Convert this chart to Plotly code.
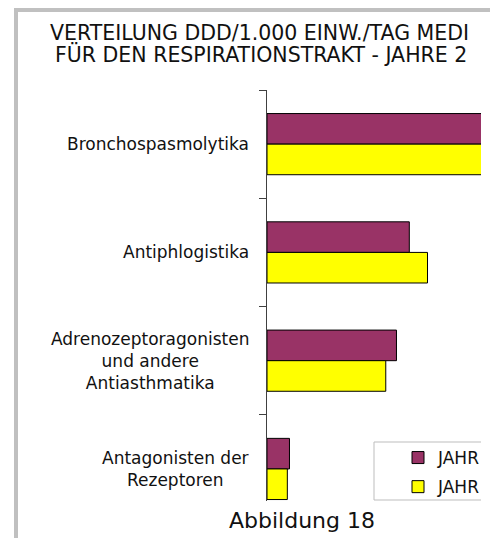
import plotly.graph_objects as go

# ---- data ----
categories = [
    "Bronchospasmolytika",
    "Antiphlogistika",
    "Adrenozeptoragonisten und andere Antiasthmatika",
    "Antagonisten der Rezeptoren",
]
category_labels = [
    "Bronchospasmolytika",
    "Antiphlogistika",
    "Adrenozeptoragonisten<br>und andere<br>Antiasthmatika",
    "Antagonisten der<br>Rezeptoren",
]
series_names = ["JAHR", "JAHR"]
values_first = [26.5, 13.3, 12.1, 2.1]
values_second = [27.8, 15.0, 11.1, 1.9]
title_lines = [
    "VERTEILUNG DDD/1.000 EINW./TAG MEDI",
    "FÜR DEN RESPIRATIONSTRAKT - JAHRE 2",
]
caption = "Abbildung 18"

# the page body adds an 8px offset, so the figure is 8px smaller
OFF = 8
W, H = 498 - OFF, 538 - OFF


def px(x):
    return (x - OFF) / W


def py(y):
    return 1 - (y - OFF) / H


FONT = "DejaVu Sans"
TXT = "#111111"

fig = go.Figure()
fig.add_trace(go.Bar(
    y=categories, x=values_first, orientation="h", name=series_names[0],
    marker=dict(color="#993366", line=dict(color="#000000", width=1)),
    legendgroup="a",
))
fig.add_trace(go.Bar(
    y=categories, x=values_second, orientation="h", name=series_names[1],
    marker=dict(color="#FFFF00", line=dict(color="#000000", width=1)),
    legendgroup="b",
))

annotations = [
    dict(text=title_lines[0], x=px(48), y=py(33), xref="paper", yref="paper",
         xanchor="left", yanchor="middle", showarrow=False,
         font=dict(family=FONT, size=20.5, color=TXT)),
    dict(text=title_lines[1], x=px(53), y=py(55), xref="paper", yref="paper",
         xanchor="left", yanchor="middle", showarrow=False,
         font=dict(family=FONT, size=20.5, color=TXT)),
    dict(text=caption, x=px(302), y=py(520), xref="paper", yref="paper",
         xanchor="center", yanchor="middle", showarrow=False,
         font=dict(family=FONT, size=22, color=TXT)),
]
for cat, lab in zip(categories, category_labels):
    annotations.append(dict(
        text=lab, x=px(251), y=cat, xref="paper", yref="y",
        xanchor="right", yanchor="middle", align="center", showarrow=False,
        font=dict(family=FONT, size=17, color=TXT)))

GRAY = "#c0c0c0"
shapes = [
    dict(type="rect", xref="paper", yref="paper", x0=px(14), x1=px(18),
         y0=py(538), y1=py(8), fillcolor=GRAY, line=dict(width=0)),
    dict(type="rect", xref="paper", yref="paper", x0=px(14), x1=px(498),
         y0=py(12), y1=py(8), fillcolor=GRAY, line=dict(width=0)),
    # legend frame (right side cut off like in the reference)
    dict(type="line", xref="paper", yref="paper", x0=px(374), x1=px(481),
         y0=py(442), y1=py(442), line=dict(color="#bdbdbd", width=1)),
    dict(type="line", xref="paper", yref="paper", x0=px(374), x1=px(374),
         y0=py(442), y1=py(500), line=dict(color="#bdbdbd", width=1)),
    dict(type="line", xref="paper", yref="paper", x0=px(374), x1=px(481),
         y0=py(500), y1=py(500), line=dict(color="#bdbdbd", width=1)),
]

fig.update_layout(
    width=W, height=H,
    margin=dict(l=0, r=0, t=0, b=0),
    paper_bgcolor="white", plot_bgcolor="white",
    barmode="group", bargap=0.435, bargroupgap=0,
    xaxis=dict(domain=[px(267), px(481)], range=[0, 20], visible=False,
               fixedrange=True),
    yaxis=dict(domain=[py(501), py(90)], type="category",
               categoryorder="array", categoryarray=categories,
               range=[3.296, -0.5], showline=True, linecolor="#404040",
               linewidth=1, ticks="outside", ticklen=7, tickcolor="#404040",
               tickson="boundaries", showticklabels=False, showgrid=False,
               zeroline=False),
    showlegend=True,
    legend=dict(x=px(398), y=py(440), xanchor="left", yanchor="top",
                bgcolor="rgba(0,0,0,0)", borderwidth=0,
                traceorder="grouped", tracegroupgap=4,
                font=dict(family=FONT, size=17, color=TXT)),
    annotations=annotations,
    shapes=shapes,
)

fig.write_html("out.html")
